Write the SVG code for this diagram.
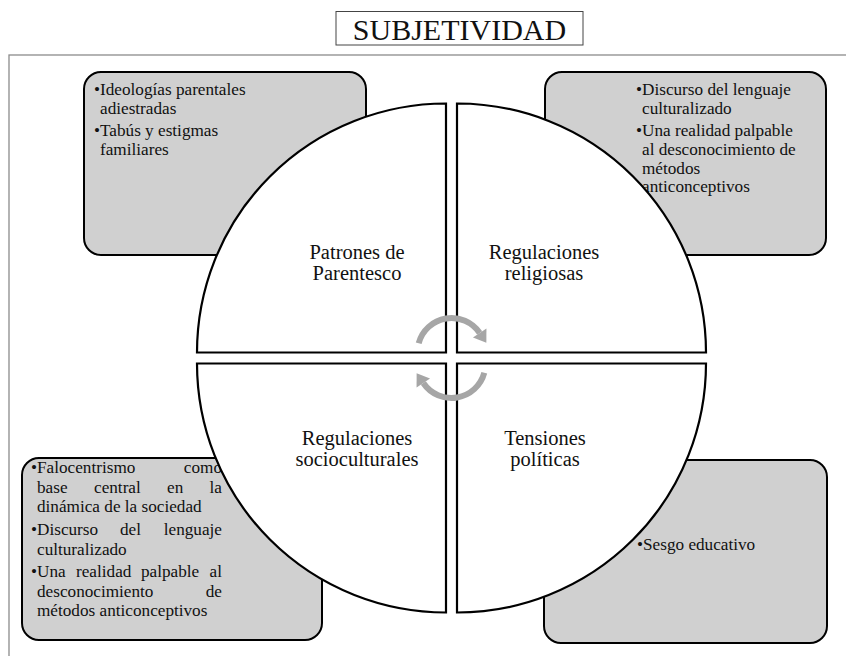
<svg xmlns="http://www.w3.org/2000/svg" width="846" height="656" viewBox="0 0 846 656">
<style>
  .box { fill: #d0d0d0; stroke: #000; stroke-width: 2; }
  .quad { fill: #fff; stroke: #000; stroke-width: 2.2; }
  .t { font-family: "Liberation Serif", "Times New Roman", serif; font-size: 17.2px; fill: #111; }
  .e { text-anchor: end; }
  .lab { font-family: "Liberation Serif", "Times New Roman", serif; font-size: 20.5px; fill: #111; text-anchor: middle; }
  .arc { fill: none; stroke: #a6a6a6; stroke-width: 6; }
</style>
<defs>
  <marker id="ah" markerUnits="userSpaceOnUse" markerWidth="20" markerHeight="20" refX="0" refY="0" viewBox="-1 -8 12 16" orient="auto">
    <path d="M0,-6.5 L9.5,0 L0,6.5 Z" fill="#a6a6a6"/>
  </marker>
</defs>
<rect width="846" height="656" fill="#fff"/>
<rect x="9" y="55" width="900" height="700" fill="none" stroke="#8c8c8c" stroke-width="1.3"/>

<g id="title">
  <rect x="336" y="11.5" width="247" height="33.5" fill="#fff" stroke="#444" stroke-width="1"/>
  <text x="459.5" y="39.5" font-family="Liberation Serif, Times New Roman, serif" font-size="30" text-anchor="middle" fill="#111">SUBJETIVIDAD</text>
</g>

<g id="box-tl">
  <rect class="box" x="84" y="72" width="282" height="183" rx="17"/>
  <text class="t" x="94" y="95">•Ideologías parentales</text>
  <text class="t" x="100" y="114">adiestradas</text>
  <text class="t" x="94" y="136">•Tabús y estigmas</text>
  <text class="t" x="100" y="155">familiares</text>
</g>
<g id="box-tr">
  <rect class="box" x="545" y="72" width="281" height="183" rx="17"/>
  <text class="t" x="636" y="95">•Discurso del lenguaje</text>
  <text class="t" x="642" y="114">culturalizado</text>
  <text class="t" x="636" y="136">•Una realidad palpable</text>
  <text class="t" x="642" y="155">al desconocimiento de</text>
  <text class="t" x="642" y="173.5">métodos</text>
  <text class="t" x="642" y="192">anticonceptivos</text>
</g>
<g id="box-bl">
  <rect class="box" x="22" y="458" width="300" height="182" rx="17"/>
  <text class="t" x="31" y="473">•Falocentrismo</text>
  <text class="t e" x="222" y="473">como</text>
  <text class="t" x="37" y="492.5">base</text>
  <text class="t" x="94" y="492.5">central</text>
  <text class="t" x="167" y="492.5">en</text>
  <text class="t e" x="222" y="492.5">la</text>
  <text class="t" x="37" y="512">dinámica de la sociedad</text>
  <text class="t" x="31" y="535">•Discurso</text>
  <text class="t" x="120" y="535">del</text>
  <text class="t e" x="222" y="535">lenguaje</text>
  <text class="t" x="37" y="554.5">culturalizado</text>
  <text class="t" x="31" y="577">•Una</text>
  <text class="t" x="76" y="577">realidad</text>
  <text class="t" x="141" y="577">palpable</text>
  <text class="t e" x="222" y="577">al</text>
  <text class="t" x="37" y="596.5">desconocimiento</text>
  <text class="t e" x="222" y="596.5">de</text>
  <text class="t" x="37" y="616">métodos anticonceptivos</text>
</g>
<g id="box-br">
  <rect class="box" x="544" y="460" width="283" height="183" rx="17"/>
  <text class="t" x="637" y="550">•Sesgo educativo</text>
</g>

<g id="q-tl">
  <path class="quad" d="M446 352.5 L197 352.5 A249 249 0 0 1 446 103.5 Z"/>
  <text class="lab" x="357" y="259">Patrones de</text>
  <text class="lab" x="357" y="280">Parentesco</text>
</g>
<g id="q-tr">
  <path class="quad" d="M457 352.5 L457 103.5 A249 249 0 0 1 706 352.5 Z"/>
  <text class="lab" x="544" y="259">Regulaciones</text>
  <text class="lab" x="544" y="280">religiosas</text>
</g>
<g id="q-bl">
  <path class="quad" d="M446 363.5 L446 612.5 A249 249 0 0 1 197 363.5 Z"/>
  <text class="lab" x="357" y="445">Regulaciones</text>
  <text class="lab" x="357" y="466">socioculturales</text>
</g>
<g id="q-br">
  <path class="quad" d="M457 363.5 L706 363.5 A249 249 0 0 1 457 612.5 Z"/>
  <text class="lab" x="545" y="445">Tensiones</text>
  <text class="lab" x="545" y="466">políticas</text>
</g>

<g id="connectors">
  <path class="arc" d="M418.7 343.2 A34 34 0 0 1 479.7 333" marker-end="url(#ah)"/>
  <path class="arc" d="M484.3 372.8 A34 34 0 0 1 423.3 383" marker-end="url(#ah)"/>
</g>
</svg>
